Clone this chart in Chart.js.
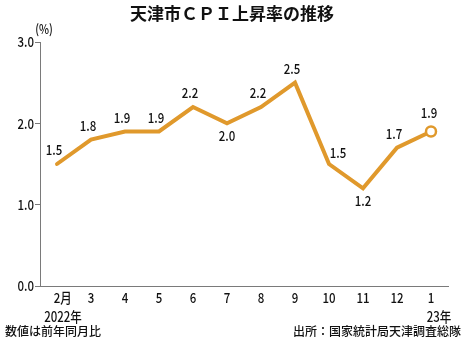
<!DOCTYPE html>
<html>
<head>
<meta charset="utf-8">
<script src="https://cdn.jsdelivr.net/npm/chart.js@4"></script>
<style>
  html, body { margin: 0; padding: 0; background: #fff; }
  #wrap { width: 465px; height: 340px; position: relative; }
</style>
</head>
<body>
<div id="wrap"><canvas id="cpiChart" width="465" height="340"></canvas></div>
<script>
const months = ['2月', '3', '4', '5', '6', '7', '8', '9', '10', '11', '12', '1'];
const yearLabels = ['2022年', '', '', '', '', '', '', '', '', '', '', '23年'];
const cpiRates = [1.5, 1.8, 1.9, 1.9, 2.2, 2.0, 2.2, 2.5, 1.5, 1.2, 1.7, 1.9];
const labelPlace = ['up', 'up', 'up', 'up', 'up', 'down', 'up', 'up', 'right', 'down', 'up', 'ring'];
const yTicks = [0, 1, 2, 3];

const titleText = '天津市ＣＰＩ上昇率の推移';
const noteLeft = '数値は前年同月比';
const noteRight = '出所：国家統計局天津調査総隊';

const lineColor = '#E0992C';
const axisColor = '#7a7a7a';
const cjkFont = '"Noto Sans CJK JP", sans-serif';
const squeeze = 0.82;

const offsets = {
    up: [-3, -14],
    down: [0, 12],
    right: [9, -11],
    ring: [-2, -19]
};

// narrow lettering: squash the text horizontally around its anchor
function narrowText(ctx, text, x, y, align) {
    ctx.save();
    ctx.translate(x, y);
    ctx.scale(squeeze, 1);
    ctx.textAlign = align || 'center';
    ctx.fillText(text, 0, 0);
    ctx.restore();
}

// value labels, axis labels, title and notes
const overlay = {
    id: 'overlay',
    afterDatasetsDraw(chart) {
        const ctx = chart.ctx;
        const meta = chart.getDatasetMeta(0);
        const xs = chart.scales.x;
        const ys = chart.scales.y;
        const area = chart.chartArea;
        ctx.save();
        ctx.fillStyle = '#111';
        ctx.textBaseline = 'middle';

        ctx.font = '500 14px ' + cjkFont;
        meta.data.forEach((pt, i) => {
            const off = offsets[labelPlace[i]];
            narrowText(ctx, cpiRates[i].toFixed(1), pt.x + off[0], pt.y + off[1]);
        });

        yTicks.forEach((v) => {
            narrowText(ctx, v.toFixed(1), area.left - 6, ys.getPixelForValue(v), 'right');
        });

        months.forEach((m, i) => {
            const x = xs.getPixelForValue(i);
            if (m.endsWith('月')) {
                // digit sits over the tick, 月 trails to the right
                const w = ctx.measureText(m.slice(0, -1)).width * squeeze;
                narrowText(ctx, m, x - w / 2, area.bottom + 12, 'left');
            } else {
                narrowText(ctx, m, x, area.bottom + 12);
            }
            if (yearLabels[i]) {
                narrowText(ctx, yearLabels[i], x + (i === 0 ? 6 : 8), area.bottom + 31);
            }
        });

        ctx.font = '500 13px ' + cjkFont;
        narrowText(ctx, '(%)', 44, 29);

        ctx.textAlign = 'center';
        ctx.font = 'bold 17px ' + cjkFont;
        ctx.fillText(titleText, 232, 14);

        ctx.font = '500 12px ' + cjkFont;
        ctx.textAlign = 'left';
        ctx.fillText(noteLeft, 5, 331);
        ctx.textAlign = 'right';
        ctx.fillText(noteRight, 461, 331);
        ctx.restore();
    }
};

new Chart('cpiChart', {
    type: 'line',
    data: {
        labels: months,
        datasets: [
            {
                data: cpiRates,
                borderColor: lineColor,
                borderWidth: 4,
                borderJoinStyle: 'miter',
                borderCapStyle: 'round',
                tension: 0,
                pointRadius: cpiRates.map((_, i) => i === cpiRates.length - 1 ? 5 : 0),
                pointBorderWidth: 2.5,
                pointBackgroundColor: '#fff',
                pointBorderColor: lineColor
            }
        ]
    },
    options: {
        responsive: false,
        animation: false,
        devicePixelRatio: 1,
        layout: { padding: { top: 42, right: 17, bottom: 0, left: 0 } },
        plugins: {
            legend: { display: false },
            tooltip: { enabled: false }
        },
        scales: {
            x: {
                offset: true,
                grid: { display: false },
                border: { display: true, color: axisColor, width: 1 },
                ticks: { display: false },
                afterFit: (scale) => { scale.height = 54; }
            },
            y: {
                min: 0,
                max: 3,
                afterBuildTicks: (scale) => { scale.ticks = yTicks.map((v) => ({ value: v })); },
                grid: { drawOnChartArea: false, tickLength: 5, color: axisColor },
                border: { display: true, color: axisColor, width: 1 },
                ticks: { display: false },
                afterFit: (scale) => { scale.width = 40; }
            }
        }
    },
    plugins: [overlay]
});
</script>
</body>
</html>
